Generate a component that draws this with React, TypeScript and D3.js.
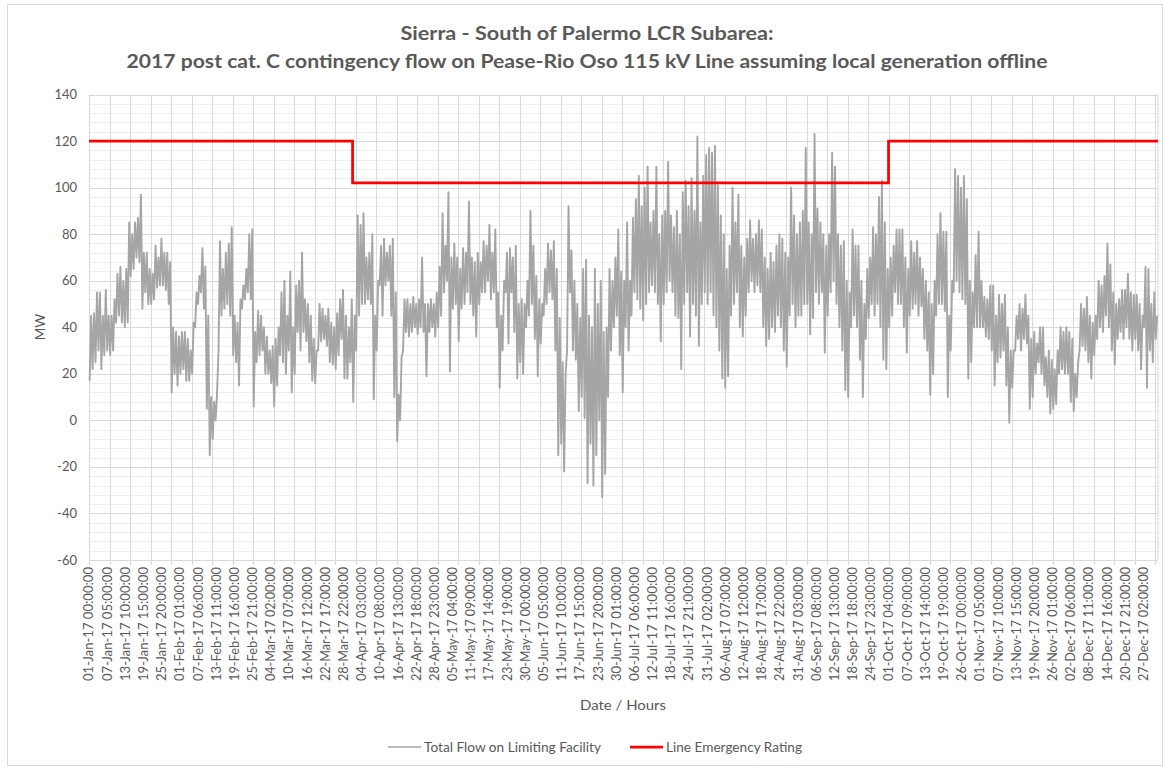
import React, { useEffect, useRef } from 'react';
import * as d3 from 'd3';

// flow on the limiting facility, MW: one [low, high] pair per day
const janFlow = [17,45, 22,46, 25,55, 30,55, 22,45, 28,56, 30,45, 28,45, 30,52, 42,63, 45,66, 42,60, 40,65, 42,85, 62,80, 65,85, 70,87, 68,97, 48,72, 55,72, 50,65, 50,63, 52,75, 57,70, 58,78, 58,72, 56,72, 50,68, 12,40, 20,38, 15,36];
const febFlow = [20,38, 22,38, 17,35, 17,30, 20,42, 40,55, 50,62, 55,74, 48,66, 5,45, -15,10, -8,8, 0,12, 30,77, 45,65, 48,72, 50,76, 45,83, 28,45, 25,42, 15,52, 48,58, 52,65, 55,80, 52,82, 6,38, 25,47, 28,45];
const marFlow = [30,40, 20,36, 20,30, 16,32, 6,35, 15,40, 28,55, 25,60, 20,45, 30,64, 12,40, 20,58, 38,60, 30,72, 38,52, 34,50, 25,45, 17,35, 16,30, 30,50, 34,48, 35,45, 32,48, 25,42, 24,40, 22,46, 28,52, 35,56, 18,45, 18,40, 25,52];
const aprFlow = [8,45, 30,88, 45,84, 50,89, 50,70, 52,72, 50,80, 9,45, 30,60, 58,75, 45,78, 58,72, 60,75, 45,78, 10,55, -9,11, 0,27, 30,52, 38,52, 36,50, 38,53, 40,50, 37,52, 40,70, 38,50, 19,50, 38,52, 40,50, 36,55, 40,66];
const mayFlow = [45,89, 55,75, 60,98, 21,70, 48,76, 50,70, 34,65, 48,74, 50,72, 55,94, 50,70, 45,68, 36,72, 50,68, 55,77, 55,75, 60,84, 52,72, 55,82, 40,55, 14,45, 30,60, 55,72, 33,74, 55,70, 38,75, 18,50, 25,52, 20,50, 40,60, 45,90];
const junFlow = [50,75, 35,62, 19,52, 33,50, 45,65, 50,76, 55,73, 52,77, 30,65, -15,44, -10,25, -22,20, 30,92, 55,73, 30,60, 26,50, 4,44, 10,65, 1,69, -27,45, -10,40, -28,65, -15,50, 0,60, -33,38, -23,40, 10,65, 30,60, 40,70, 45,82];
const julFlow = [28,64, 12,60, 40,85, 30,60, 45,87, 55,95, 52,105, 48,92, 43,100, 50,109, 55,85, 58,90, 55,109, 50,80, 34,88, 50,90, 55,111, 60,88, 55,83, 45,90, 44,80, 22,98, 50,103, 55,92, 36,104, 50,90, 45,122, 32,85, 50,105, 55,114, 50,117];
const augFlow = [55,115, 45,118, 40,101, 30,88, 18,80, 14,65, 19,75, 45,100, 50,85, 55,97, 40,75, 36,70, 45,78, 55,86, 60,78, 55,80, 58,86, 55,82, 40,70, 32,65, 35,72, 40,68, 38,75, 45,80, 40,78, 30,72, 23,70, 45,100, 50,88, 40,80, 45,85];
const sepFlow = [45,90, 50,117, 50,85, 37,80, 44,123, 55,91, 50,85, 55,80, 29,75, 45,80, 55,115, 60,109, 50,80, 40,75, 30,77, 13,60, 10,55, 40,82, 45,75, 40,75, 26,60, 10,50, 35,65, 44,70, 50,83, 45,80, 50,96, 40,103, 26,85, 22,65];
const octFlow = [40,70, 45,75, 55,82, 50,82, 50,82, 40,70, 29,65, 45,77, 48,72, 50,77, 45,70, 49,65, 35,60, 30,55, 11,50, 20,60, 45,80, 50,89, 50,81, 47,81, 10,45, 30,60, 55,108, 60,105, 55,100, 52,105, 50,95, 18,60, 25,55, 40,71, 40,81];
const novFlow = [40,60, 40,53, 36,52, 35,58, 30,58, 15,45, 25,54, 27,50, 30,54, 15,40, -1,30, 14,30, 30,45, 35,50, 30,48, 35,54, 33,45, 5,35, 10,38, 20,33, 25,40, 20,40, 15,27, 10,30, 3,26, 5,22, 7,30, 20,40, 22,38, 20,40];
const decFlow = [20,38, 8,35, 4,20, 10,25, 30,50, 32,48, 30,53, 25,45, 18,42, 28,45, 35,60, 40,58, 38,62, 45,76, 40,67, 30,55, 24,50, 35,52, 38,56, 35,56, 40,63, 35,55, 30,54, 35,54, 30,50, 22,45, 40,66, 14,65, 30,50, 25,55, 35,45];

// line emergency rating, MW, changing at these hours of the year
const ratingHours = [0, 2160, 6552, 8760];
const ratingValues = [120, 102, 120, 120];

const yTicks = [-60, -40, -20, 0, 20, 40, 60, 80, 100, 120, 140];
const hoursInYear = 8760;
const labelEvery = 149; // hours between category labels
const gridEvery = 168;  // hours between tick marks / vertical gridlines

const seriesNames = ['Total Flow on Limiting Facility', 'Line Emergency Rating'];
const titleLines = [
  'Sierra - South of Palermo LCR Subarea:',
  '2017 post cat. C contingency flow on Pease-Rio Oso 115 kV Line assuming local generation offline',
];

const W = 1165, H = 771;
const FONT = 'Lato, "Liberation Sans", sans-serif';
const TXT = '#595959';

export default function App() {
  const svgRef = useRef<SVGSVGElement>(null);

  useEffect(() => {
    const svg = d3.select(svgRef.current);
    svg.selectAll('*').remove();

    const x = d3.scaleLinear().domain([0, hoursInYear]).range([89, 1158]);
    const y = d3.scaleLinear().domain([-60, 140]).range([560, 94.5]);

    const flow = [janFlow, febFlow, marFlow, aprFlow, mayFlow, junFlow, julFlow, augFlow, sepFlow, octFlow, novFlow, decFlow]
      .flat()
      .map((v, i) => ({ h: Math.floor(i / 2) * 24 + (i % 2 ? 17 : 5), v }));

    svg.append('rect').attr('x', 7.5).attr('y', 4.5).attr('width', 1155).attr('height', 761)
      .attr('fill', '#fff').attr('stroke', '#D9D9D9');

    // minor horizontal gridlines
    const minor = d3.range(-60, 141, 4).filter(v => v % 20 !== 0);
    svg.append('g').selectAll('line').data(minor).join('line')
      .attr('x1', x(0)).attr('x2', x(hoursInYear))
      .attr('y1', d => Math.round(y(d)) + 0.5).attr('y2', d => Math.round(y(d)) + 0.5)
      .attr('stroke', '#EEEEEE');

    // vertical gridlines
    const vgrid = d3.range(0, hoursInYear + 1, gridEvery);
    svg.append('g').selectAll('line').data(vgrid).join('line')
      .attr('x1', d => Math.round(x(d)) + 0.5).attr('x2', d => Math.round(x(d)) + 0.5)
      .attr('y1', y(140)).attr('y2', y(-60) + 5)
      .attr('stroke', '#D9D9D9');
    svg.append('line').attr('x1', x(hoursInYear)).attr('x2', x(hoursInYear))
      .attr('y1', y(140)).attr('y2', y(-60)).attr('stroke', '#D9D9D9');

    // major horizontal gridlines
    svg.append('g').selectAll('line').data(yTicks).join('line')
      .attr('x1', x(0)).attr('x2', x(hoursInYear))
      .attr('y1', d => Math.round(y(d)) + 0.5).attr('y2', d => Math.round(y(d)) + 0.5)
      .attr('stroke', '#D9D9D9');

    svg.append('g').selectAll('text').data(yTicks).join('text')
      .attr('x', 77).attr('y', d => y(d)).attr('text-anchor', 'end').attr('dy', '0.35em')
      .attr('font-family', FONT).attr('font-size', 13).attr('fill', TXT)
      .text(d => d);

    // category labels
    const fmt = d3.utcFormat('%d-%b-%y %H:%M:%S');
    const t0 = Date.UTC(2017, 0, 1);
    const labelHours = d3.range(0, hoursInYear, labelEvery);
    svg.append('g').selectAll('text').data(labelHours).join('text')
      .attr('transform', d => `translate(${x(d + 0.5)},567) rotate(-90)`)
      .attr('text-anchor', 'end').attr('dy', '0.35em')
      .attr('font-family', FONT).attr('font-size', 12.5).attr('fill', TXT)
      .attr('textLength', 114).attr('lengthAdjust', 'spacingAndGlyphs')
      .text(d => fmt(new Date(t0 + d * 3600e3)));

    const line = d3.line<{ h: number; v: number }>().x(d => x(d.h + 0.5)).y(d => y(d.v));
    svg.append('path').datum(flow).attr('d', line)
      .attr('fill', 'none').attr('stroke', '#A5A5A5').attr('stroke-width', 1.9).attr('stroke-linejoin', 'round');

    const rating = ratingHours.map((h, i) => ({ h, v: ratingValues[i] }));
    const stepLine = d3.line<{ h: number; v: number }>().x(d => x(d.h)).y(d => y(d.v)).curve(d3.curveStepAfter);
    svg.append('path').datum(rating).attr('d', stepLine)
      .attr('fill', 'none').attr('stroke', '#FF0000').attr('stroke-width', 2.75);

    // titles
    const tl = [[titleLines[0], 33, 373], [titleLines[1], 61, 921]] as const;
    svg.append('g').selectAll('text').data(tl).join('text')
      .attr('x', 587).attr('y', d => d[1]).attr('text-anchor', 'middle').attr('dy', '0.35em')
      .attr('font-family', FONT).attr('font-weight', 'bold').attr('font-size', 19).attr('fill', TXT)
      .attr('textLength', d => d[2]).attr('lengthAdjust', 'spacingAndGlyphs')
      .text(d => d[0]);

    svg.append('text').attr('transform', 'translate(40,327) rotate(-90)').attr('text-anchor', 'middle')
      .attr('dy', '0.35em').attr('font-family', FONT).attr('font-size', 13.5).attr('fill', TXT).text('MW');
    svg.append('text').attr('x', 623).attr('y', 705).attr('text-anchor', 'middle').attr('dy', '0.35em')
      .attr('font-family', FONT).attr('font-size', 14).attr('fill', TXT)
      .attr('textLength', 86).attr('lengthAdjust', 'spacingAndGlyphs').text('Date / Hours');

    // legend
    const legend = [
      { name: seriesNames[0], x0: 388, color: '#A5A5A5', w: 1.5, len: 177 },
      { name: seriesNames[1], x0: 630, color: '#FF0000', w: 2.75, len: 136 },
    ];
    const lg = svg.append('g').selectAll('g').data(legend).join('g');
    lg.append('line').attr('x1', d => d.x0).attr('x2', d => d.x0 + 33).attr('y1', 747).attr('y2', 747)
      .attr('stroke', d => d.color).attr('stroke-width', d => d.w);
    lg.append('text').attr('x', d => d.x0 + 36).attr('y', 747).attr('dy', '0.35em')
      .attr('font-family', FONT).attr('font-size', 13).attr('fill', TXT)
      .attr('textLength', d => d.len).attr('lengthAdjust', 'spacingAndGlyphs')
      .text(d => d.name);
  }, []);

  return <svg ref={svgRef} width={W} height={H} style={{ position: 'absolute', left: 0, top: 0 }} />;
}
